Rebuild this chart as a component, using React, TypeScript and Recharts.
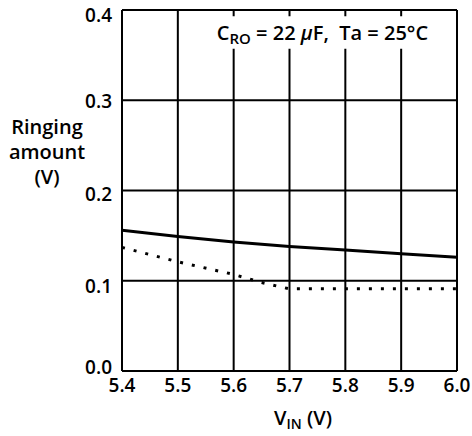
import React from "react";
import {
  LineChart,
  Line,
  XAxis,
  YAxis,
  CartesianGrid,
  ReferenceArea,
} from "recharts";

const vinSolid = [5.4, 5.5, 5.6, 5.7, 5.8, 5.9, 6.0];
const ringingSolid = [0.156, 0.149, 0.143, 0.138, 0.134, 0.13, 0.126];

const vinDotted = [5.4, 5.5, 5.6, 5.65, 5.7, 5.8, 5.9, 6.0];
const ringingDotted = [0.137, 0.121, 0.107, 0.098, 0.091, 0.091, 0.091, 0.091];

const xTicks = [5.4, 5.5, 5.6, 5.7, 5.8, 5.9, 6.0];
const yTicks = [0.0, 0.1, 0.2, 0.3, 0.4];

const solidData = vinSolid.map((v, i) => ({ vin: v, ringing: ringingSolid[i] }));
const dottedData = vinDotted.map((v, i) => ({ vin: v, ringing: ringingDotted[i] }));

const FONT = "'Open Sans', 'DejaVu Sans', sans-serif";
const WEIGHT = 600;

// the scanned labels sit a little off their grid lines
function YTick(props: any) {
  const { x, y, payload, index } = props;
  const nudge = [-4, 6, 4, 1, 5][index] ?? 0;
  return (
    <text
      x={x}
      y={y + nudge}
      dy="0.355em"
      textAnchor="end"
      fontFamily={FONT}
      fontSize={19}
      fontWeight={WEIGHT}
      fill="#000"
    >
      {Number(payload.value).toFixed(1)}
    </text>
  );
}

function YLabel() {
  return (
    <text textAnchor="middle" fontFamily={FONT} fontSize={20} fontWeight={WEIGHT} fill="#000">
      <tspan x={47} y={134}>Ringing</tspan>
      <tspan x={47} y={159}>amount</tspan>
      <tspan x={47} y={184}>(V)</tspan>
    </text>
  );
}

function XLabel() {
  return (
    <text x={303} y={425} textAnchor="middle" fontFamily={FONT} fontSize={20} fontWeight={WEIGHT} fill="#000">
      V<tspan fontSize={14} dy={4}>IN</tspan>
      <tspan dy={-4}>{"\u00a0(V)"}</tspan>
    </text>
  );
}

function Note(props: any) {
  const vb = props.viewBox || {};
  const cx = vb.x + vb.width / 2;
  const cy = vb.y + vb.height / 2 + 7;
  return (
    <text x={cx} y={cy} textAnchor="middle" fontFamily={FONT} fontSize={20} fontWeight={WEIGHT} fill="#000">
      C<tspan fontSize={15} dy={4}>RO</tspan>
      <tspan dy={-4}>{"\u00a0= 22\u00a0"}</tspan>
      <tspan fontStyle="italic">μ</tspan>
      {"F,\u00a0\u00a0Ta = 25°C"}
    </text>
  );
}

export default function App() {
  return (
    <div style={{ position: "absolute", left: 0, top: 0, background: "#fff" }}>
      <LineChart
        width={472}
        height={436}
        margin={{ top: 10, right: 15, left: 0, bottom: 0 }}
      >
        <CartesianGrid stroke="#000" strokeWidth={2} />
        <XAxis
          type="number"
          dataKey="vin"
          domain={[5.4, 6.0]}
          ticks={xTicks}
          allowDataOverflow
          height={65}
          tickSize={0}
          tickMargin={8}
          tickFormatter={(v: number) => v.toFixed(1)}
          tick={{ fill: "#000", fontSize: 19, fontFamily: FONT, fontWeight: WEIGHT }}
          axisLine={{ stroke: "#000", strokeWidth: 2 }}
          label={<XLabel />}
        />
        <YAxis
          type="number"
          domain={[0, 0.4]}
          ticks={yTicks}
          allowDataOverflow
          width={122}
          tickSize={0}
          tickMargin={10}
          tick={<YTick />}
          axisLine={{ stroke: "#000", strokeWidth: 2 }}
          label={<YLabel />}
        />
        <ReferenceArea
          x1={5.563}
          x2={5.955}
          y1={0.357}
          y2={0.393}
          fill="#fff"
          fillOpacity={1}
          stroke="none"
          label={<Note />}
        />
        <Line
          data={solidData}
          dataKey="ringing"
          stroke="#000"
          strokeWidth={3}
          dot={false}
          isAnimationActive={false}
        />
        <Line
          data={dottedData}
          dataKey="ringing"
          stroke="#000"
          strokeWidth={3}
          strokeDasharray="3 9"
          dot={false}
          isAnimationActive={false}
        />
      </LineChart>
    </div>
  );
}
